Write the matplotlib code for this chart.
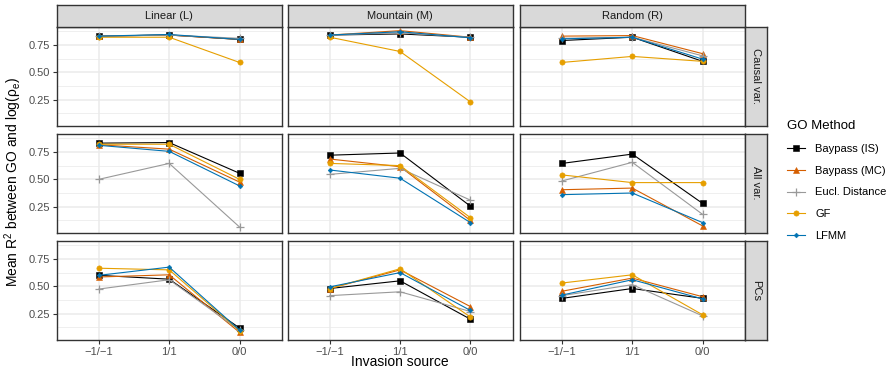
import matplotlib
matplotlib.use("Agg")
import matplotlib.pyplot as plt
import numpy as np
from matplotlib.lines import Line2D

plt.rcParams["font.family"] = ["Liberation Sans", "DejaVu Sans"]
plt.rcParams["mathtext.fontset"] = "custom"
plt.rcParams["mathtext.rm"] = "Liberation Sans"
plt.rcParams["mathtext.it"] = "Liberation Sans:italic"

sources = ["\u22121/\u22121", "1/1", "0/0"]
landscapes = ["Linear (L)", "Mountain (M)", "Random (R)"]
var_sets = ["Causal var.", "All var.", "PCs"]
methods = ["Baypass (IS)", "Baypass (MC)", "Eucl. Distance", "GF", "LFMM"]

# mean R2 per method, rows = landscape (L, M, R), cols = invasion source
causal_baypass_is = [[0.83, 0.84, 0.80], [0.84, 0.85, 0.82], [0.79, 0.82, 0.60]]
causal_baypass_mc = [[0.83, 0.84, 0.80], [0.84, 0.88, 0.82], [0.83, 0.835, 0.67]]
causal_eucl = [[0.83, 0.84, 0.81], [0.84, 0.86, 0.82], [0.81, 0.82, 0.65]]
causal_gf = [[0.82, 0.82, 0.59], [0.82, 0.69, 0.23], [0.59, 0.645, 0.60]]
causal_lfmm = [[0.83, 0.845, 0.80], [0.84, 0.87, 0.815], [0.805, 0.82, 0.62]]

all_baypass_is = [[0.83, 0.835, 0.555], [0.72, 0.74, 0.255], [0.645, 0.73, 0.28]]
all_baypass_mc = [[0.815, 0.775, 0.475], [0.685, 0.615, 0.125], [0.405, 0.42, 0.075]]
all_eucl = [[0.50, 0.645, 0.065], [0.545, 0.60, 0.31], [0.485, 0.655, 0.18]]
all_gf = [[0.82, 0.82, 0.50], [0.645, 0.625, 0.15], [0.54, 0.47, 0.47]]
all_lfmm = [[0.81, 0.755, 0.44], [0.585, 0.51, 0.105], [0.36, 0.375, 0.105]]

pcs_baypass_is = [[0.60, 0.565, 0.12], [0.48, 0.55, 0.20], [0.39, 0.48, 0.39]]
pcs_baypass_mc = [[0.585, 0.605, 0.08], [0.48, 0.65, 0.315], [0.455, 0.575, 0.405]]
pcs_eucl = [[0.475, 0.56, 0.10], [0.415, 0.45, 0.27], [0.415, 0.515, 0.23]]
pcs_gf = [[0.665, 0.65, 0.095], [0.48, 0.66, 0.22], [0.53, 0.605, 0.24]]
pcs_lfmm = [[0.60, 0.675, 0.10], [0.495, 0.625, 0.28], [0.42, 0.56, 0.385]]

data = {
    "Causal var.": [causal_baypass_is, causal_baypass_mc, causal_eucl, causal_gf, causal_lfmm],
    "All var.": [all_baypass_is, all_baypass_mc, all_eucl, all_gf, all_lfmm],
    "PCs": [pcs_baypass_is, pcs_baypass_mc, pcs_eucl, pcs_gf, pcs_lfmm],
}

colors = ["#000000", "#D55E00", "#999999", "#E69F00", "#0072B2"]
markers = ["s", "^", "+", "o", "D"]
msizes = [4.2, 4.6, 6, 3.8, 2.4]

W, H = 888, 371
fig = plt.figure(figsize=(W / 100, H / 100), dpi=100)

col_left = [56.7, 287.6, 519.8]
pw = 225.0
row_top = [26.7, 133.7, 240.7]
ph = 99.0
strip_h = 21.7
strip_w = 22.0

x = np.arange(1, 4)
grid_c = "#EBEBEB"
border_c = "#333333"
tick_c = "#4D4D4D"

for r, vs in enumerate(var_sets):
    for c, land in enumerate(landscapes):
        ax = fig.add_axes([col_left[c] / W, 1 - (row_top[r] + ph) / H, pw / W, ph / H])
        ax.set_xlim(0.4, 3.6)
        ax.set_ylim(0.013, 0.916)
        ax.set_yticks([0.25, 0.5, 0.75])
        ax.set_yticks([0.125, 0.375, 0.625, 0.875], minor=True)
        ax.set_xticks(x)
        ax.grid(True, which="major", color=grid_c, lw=1.1, zorder=0)
        ax.grid(True, which="minor", axis="y", color=grid_c, lw=0.55, zorder=0)
        ax.set_axisbelow(True)
        for s in ax.spines.values():
            s.set_color(border_c)
            s.set_linewidth(1.0)
        ax.tick_params(which="minor", length=0)
        ax.tick_params(which="major", length=3, width=0.8, color=border_c,
                       labelcolor=tick_c, labelsize=8, pad=2)
        if c == 0:
            ax.set_yticklabels(["0.25", "0.50", "0.75"])
        else:
            ax.tick_params(axis="y", length=0, labelleft=False)
        if r == 2:
            ax.set_xticklabels(sources)
        else:
            ax.tick_params(axis="x", length=0, labelbottom=False)

        for m, meth in enumerate(methods):
            vals = data[vs][m][c]
            ax.plot(x, vals, color=colors[m], lw=0.8, marker=markers[m],
                    ms=msizes[m], mew=0.9 if markers[m] == "+" else 0.4,
                    mec=colors[m], zorder=3 + m)

        if r == 0:
            sax = fig.add_axes([col_left[c] / W, 1 - row_top[0] / H, pw / W, strip_h / H])
            sax.set_facecolor("#D9D9D9")
            sax.set_xticks([])
            sax.set_yticks([])
            for s in sax.spines.values():
                s.set_color(border_c)
                s.set_linewidth(1.0)
            sax.text(0.5, 0.5, land, ha="center", va="center", fontsize=8,
                     color="#1A1A1A", transform=sax.transAxes)
        if c == 2:
            sax = fig.add_axes([(col_left[2] + pw) / W, 1 - (row_top[r] + ph) / H,
                                strip_w / W, ph / H])
            sax.set_facecolor("#D9D9D9")
            sax.set_xticks([])
            sax.set_yticks([])
            for s in sax.spines.values():
                s.set_color(border_c)
                s.set_linewidth(1.0)
            sax.text(0.5, 0.5, vs, ha="center", va="center", fontsize=8,
                     color="#1A1A1A", rotation=-90, transform=sax.transAxes)

fig.text(400 / W, 1 - 362 / H, "Invasion source", ha="center", va="center", fontsize=10)
fig.text(13 / W, 1 - 182 / H, "Mean R$^2$ between GO and log(\u03c1$_\\mathrm{e}$)",
         ha="center", va="center", rotation=90, fontsize=10)

handles = [Line2D([], [], color=colors[m], lw=0.8, marker=markers[m], ms=msizes[m],
                  mew=0.9 if markers[m] == "+" else 0.4) for m in range(len(methods))]
fig.legend(handles, methods, loc="upper left", bbox_to_anchor=(783 / W, 1 - 116 / H),
           frameon=False, title="GO Method", title_fontsize=9.5, fontsize=8,
           handlelength=1.6, handletextpad=0.9, labelspacing=1.05,
           alignment="left", borderaxespad=0)

fig.savefig("out.png", dpi=100)
